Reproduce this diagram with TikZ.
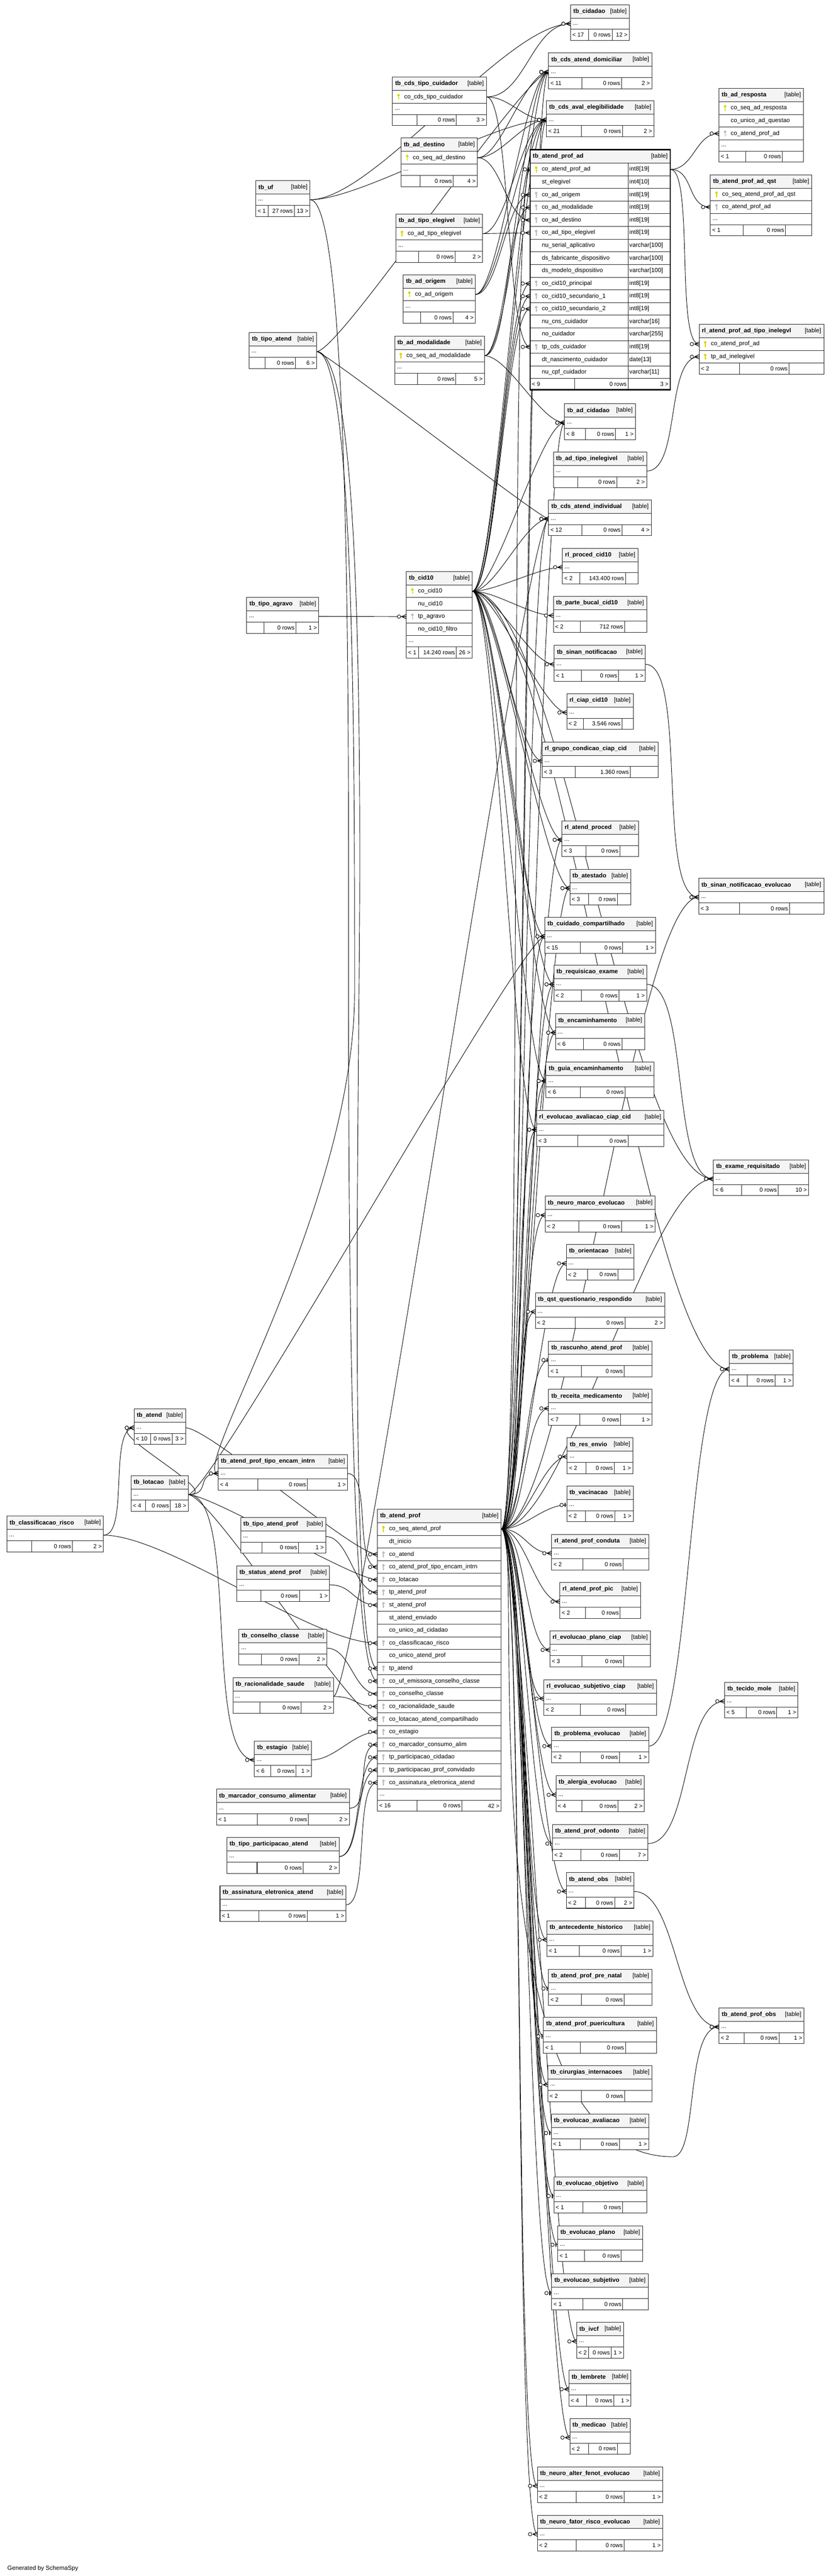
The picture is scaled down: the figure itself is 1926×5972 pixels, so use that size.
\documentclass[tikz,border=0pt]{standalone}
\usepackage{fontspec}
\setmainfont{Liberation Sans}
\usetikzlibrary{positioning}

\definecolor{headgray}{HTML}{F4F4F4}
\definecolor{keyyel}{HTML}{D8D800}
\definecolor{keygray}{HTML}{BDBDBD}

\pgfdeclarelayer{paper}
\pgfdeclarelayer{bg}
\pgfsetlayers{paper,bg,main}

\tikzset{
  tbbox/.style={draw=black!85, line width=1.2pt, inner sep=0pt, outer sep=0pt, fill=white},
  tbhead/.style={tbbox, fill=headgray, minimum height=31pt, anchor=north west},
  tbrow/.style={tbbox, minimum height=29.4pt},
  tbdots/.style={tbbox, minimum height=26pt},
  tbfoot/.style={tbbox, minimum height=26pt},
  tbname/.style={anchor=west, xshift=6pt, inner sep=0pt, font=\bfseries\fontsize{14}{16}\selectfont},
  tbtag/.style={anchor=east, xshift=-6pt, inner sep=0pt, font=\fontsize{14}{16}\selectfont},
  tbtext/.style={anchor=west, xshift=27pt, inner sep=0pt, font=\fontsize{14}{16}\selectfont},
  tbsmall/.style={inner sep=0pt, font=\fontsize{13.5}{16}\selectfont},
  fkline/.style={line width=1.1pt},
  pics/pkey/.style={code={
    \fill[#1] (0,-4) circle[radius=3pt];
    \draw[#1, line width=2pt] (0,-3) -- (0,7);
    \draw[#1, line width=1.4pt] (0,3) -- (2.5,3);}},
  pics/crow/.style={code={
    \draw[line width=1.3pt] (-11,0) -- (0,-5) (-11,0) -- (0,0) (-11,0) -- (0,5);
    \draw[line width=1.1pt, fill=white] (-17,0) circle[radius=4pt];}},
  pics/crowone/.style={code={
    \draw[line width=2.5pt] (-4,-5) -- (-4,5);
    \draw[line width=1.1pt, fill=white] (-12,0) circle[radius=4pt];}}
}

% table: [d = dots row, x = none]{id}{x}{y}{width}{kind/column,...}
\newcommand\dbtable[6][d]{%
  \xdef\dbw{#5}%
  \node[tbhead, minimum width=#5pt, label={[tbname]west:#2},
        label={[tbtag]east:{[table]}}] (#2) at (#3,#4) {};
  \xdef\dbprev{#2}%
  \if\relax\detokenize{#6}\relax\else
    \foreach \kind/\fname [count=\i] in {#6} {%
      \node[tbrow, minimum width=#5pt, below=0pt of \dbprev,
            label={[tbtext]west:\fname}] (#2-\i) {};
      \if\kind k\pic at ([xshift=14pt]#2-\i.west) {pkey=keyyel};\fi
      \if\kind f\pic at ([xshift=14pt]#2-\i.west) {pkey=keygray};\fi
      \xdef\dbprev{#2-\i}}%
  \fi
  \if#1d%
    \node[tbdots, minimum width=#5pt, below=0pt of \dbprev,
          label={[tbtext, xshift=-22pt, yshift=-2pt]west:...}] (#2-d) {};
    \xdef\dbprev{#2-d}%
  \fi}

% footer: {id}{divider 1}{divider 2}{left}{middle}{right}
\newcommand\dbfoot[6]{%
  \node[tbfoot, minimum width=\dbw pt, below=0pt of \dbprev] (#1-f) {};
  \draw[line width=1.2pt, draw=black!85]
    ([xshift=#2pt]#1-f.north west) -- ([xshift=#2pt]#1-f.south west)
    ([xshift=#3pt]#1-f.north west) -- ([xshift=#3pt]#1-f.south west);
  \node[tbsmall, anchor=west] (#1-fl) at ([xshift=4pt]#1-f.west) {#4};
  \node[tbsmall, anchor=east] (#1-fm) at ([xshift=#3pt-3pt]#1-f.west) {#5};
  \node[tbsmall, anchor=east] (#1-fr) at ([xshift=-4pt]#1-f.east) {#6};}

% connectors: zero-or-many and zero-or-one
\newcommand\fk[3][55]{%
  \begin{pgfonlayer}{bg}
    \draw[fkline] (#2.east) .. controls +(#1,0) and +(-#1,0) .. (#3.west);
  \end{pgfonlayer}
  \pic at (#3.west) {crow};}
\newcommand\fo[3][55]{%
  \begin{pgfonlayer}{bg}
    \draw[fkline] (#2.east) .. controls +(#1,0) and +(-#1,0) .. (#3.west);
  \end{pgfonlayer}
  \pic at (#3.west) {crowone};}
% connector that runs down a vertical lane
\newcommand\fklane[3]{%
  \begin{pgfonlayer}{bg}
    \draw[fkline] (#1.east) .. controls +(90,0) and +(0,-500) .. (#2)
      .. controls +(0,500) and +(-70,0) .. (#3.west);
  \end{pgfonlayer}
  \pic at (#3.west) {crow};}

\begin{document}
\catcode`\_=12
\begin{tikzpicture}[x=1pt, y=-1pt]
\begin{pgfonlayer}{paper}
  \fill[white] (0,0) rectangle (1926,5972);
\end{pgfonlayer}
\useasboundingbox (0,0) rectangle (1926,5972);

% top group
\dbtable{tb_cidadao}{1323}{11}{136}{}
\dbfoot{tb_cidadao}{41}{96}{< 17}{0 rows}{12 >}
\dbtable{tb_cds_atend_domiciliar}{1272}{123}{239}{}
\dbfoot{tb_cds_atend_domiciliar}{77}{169}{< 11}{0 rows}{2 >}
\dbtable{tb_cds_tipo_cuidador}{910}{179}{218}{k/co_cds_tipo_cuidador}
\dbfoot{tb_cds_tipo_cuidador}{57}{148}{}{0 rows}{3 >}
\dbtable{tb_ad_resposta}{1667}{205}{196}{k/co_seq_ad_resposta,n/co_unico_ad_questao,f/co_atend_prof_ad}
\dbfoot{tb_ad_resposta}{62}{147}{< 1}{0 rows}{}
\dbtable{tb_cds_aval_elegibilidade}{1267}{234}{249}{}
\dbfoot{tb_cds_aval_elegibilidade}{81}{176}{< 21}{0 rows}{2 >}
\dbtable{tb_ad_destino}{930}{320}{177}{k/co_seq_ad_destino}
\dbfoot{tb_ad_destino}{44}{121}{}{0 rows}{4 >}
\dbtable{tb_atend_prof_ad_qst}{1647}{405}{235}{k/co_seq_atend_prof_ad_qst,f/co_atend_prof_ad}
\dbfoot{tb_atend_prof_ad_qst}{76}{174}{< 1}{0 rows}{}
\dbtable{tb_uf}{593}{419}{126}{}
\dbfoot{tb_uf}{29}{89}{< 1}{27 rows}{13 >}
\dbtable{tb_ad_tipo_elegivel}{918}{496}{201}{k/co_ad_tipo_elegivel}
\dbfoot{tb_ad_tipo_elegivel}{52}{137}{}{0 rows}{2 >}
\dbtable{tb_ad_origem}{935}{637}{167}{k/co_ad_origem}
\dbfoot{tb_ad_origem}{40}{115}{}{0 rows}{4 >}
\dbtable[x]{rl_atend_prof_ad_tipo_inelegvl}{1621}{752}{289}{k/co_atend_prof_ad,k/tp_ad_inelegivel}
\dbfoot{rl_atend_prof_ad_tipo_inelegvl}{93}{208}{< 2}{0 rows}{}
\dbtable{tb_tipo_atend}{578}{771}{156}{}
\dbfoot{tb_tipo_atend}{36}{107}{}{0 rows}{6 >}
\dbtable{tb_ad_modalidade}{915}{779}{208}{k/co_seq_ad_modalidade}
\dbfoot{tb_ad_modalidade}{53}{142}{}{0 rows}{5 >}

% the focus table
\node[tbhead, minimum width=325pt, label={[tbname]west:tb_atend_prof_ad},
      label={[tbtag]east:{[table]}}] (tb_atend_prof_ad) at (1229,347) {};
\xdef\dbprev{tb_atend_prof_ad}\xdef\dbw{325}
\foreach \kind/\fname/\ftype [count=\i] in {k/co_atend_prof_ad/int8[19], n/st_elegivel/int4[10],
    f/co_ad_origem/int8[19], f/co_ad_modalidade/int8[19], f/co_ad_destino/int8[19],
    f/co_ad_tipo_elegivel/int8[19], n/nu_serial_aplicativo/varchar[100],
    n/ds_fabricante_dispositivo/varchar[100], n/ds_modelo_dispositivo/varchar[100],
    f/co_cid10_principal/int8[19], f/co_cid10_secundario_1/int8[19], f/co_cid10_secundario_2/int8[19],
    n/nu_cns_cuidador/varchar[16], n/no_cuidador/varchar[255], f/tp_cds_cuidador/int8[19],
    n/dt_nascimento_cuidador/date[13], n/nu_cpf_cuidador/varchar[11]} {
  \node[tbrow, minimum width=325pt, below=0pt of \dbprev, label={[tbtext]west:\fname},
        label={[tbtext, xshift=203pt]west:\ftype}] (tb_atend_prof_ad-\i) {};
  \draw[line width=1.2pt, draw=black!85] ([xshift=227pt]tb_atend_prof_ad-\i.north west)
    -- ([xshift=227pt]tb_atend_prof_ad-\i.south west);
  \if\kind k\pic at ([xshift=14pt]tb_atend_prof_ad-\i.west) {pkey=keyyel};\fi
  \if\kind f\pic at ([xshift=14pt]tb_atend_prof_ad-\i.west) {pkey=keygray};\fi
  \xdef\dbprev{tb_atend_prof_ad-\i}
}
\dbfoot{tb_atend_prof_ad}{103}{227}{< 9}{0 rows}{3 >}
\draw[line width=3pt] (tb_atend_prof_ad.north west) rectangle (tb_atend_prof_ad-f.south east);

% cid10 group
\dbtable{tb_ad_cidadao}{1309}{936}{164}{}
\dbfoot{tb_ad_cidadao}{48}{118}{< 8}{0 rows}{1 >}
\dbtable{tb_ad_tipo_inelegivel}{1283}{1048}{216}{}
\dbfoot{tb_ad_tipo_inelegivel}{57}{147}{}{0 rows}{2 >}
\dbtable{tb_cds_atend_individual}{1272}{1159}{238}{}
\dbfoot{tb_cds_atend_individual}{77}{170}{< 12}{0 rows}{4 >}
\dbtable{rl_proced_cid10}{1304}{1271}{175}{}
\dbfoot{rl_proced_cid10}{40}{146}{< 2}{143.400 rows}{}
\dbtable{tb_cid10}{942}{1325}{153}{k/co_cid10,n/nu_cid10,f/tp_agravo,n/no_cid10_filtro}
\dbfoot{tb_cid10}{29}{116}{< 1}{14.240 rows}{26 >}
\dbtable{tb_tipo_agravo}{572}{1385}{167}{}
\dbfoot{tb_tipo_agravo}{40}{114}{}{0 rows}{1 >}
\dbtable{tb_parte_bucal_cid10}{1283}{1383}{216}{}
\dbfoot{tb_parte_bucal_cid10}{63}{165}{< 2}{712 rows}{}
\dbtable{tb_sinan_notificacao}{1285}{1496}{211}{}
\dbfoot{tb_sinan_notificacao}{63}{149}{< 1}{0 rows}{1 >}
\dbtable{rl_ciap_cid10}{1314}{1608}{154}{}
\dbfoot{rl_ciap_cid10}{39}{128}{< 2}{3.546 rows}{}
\dbtable{rl_grupo_condicao_ciap_cid}{1257}{1720}{269}{}
\dbfoot{rl_grupo_condicao_ciap_cid}{77}{204}{< 3}{1.360 rows}{}

% right column
\dbtable{rl_atend_proced}{1303}{1903}{177}{}
\dbfoot{rl_atend_proced}{56}{134}{< 3}{0 rows}{}
\dbtable{tb_atestado}{1321}{2015}{141}{}
\dbfoot{tb_atestado}{43}{110}{< 3}{0 rows}{}
\dbtable{tb_sinan_notificacao_evolucao}{1620}{2036}{290}{}
\dbfoot{tb_sinan_notificacao_evolucao}{94}{210}{< 3}{0 rows}{}
\dbtable{tb_cuidado_compartilhado}{1263}{2127}{257}{}
\dbfoot{tb_cuidado_compartilhado}{83}{181}{< 15}{0 rows}{1 >}
\dbtable{tb_requisicao_exame}{1284}{2238}{215}{}
\dbfoot{tb_requisicao_exame}{64}{151}{< 2}{0 rows}{1 >}
\dbtable{tb_encaminhamento}{1288}{2350}{207}{}
\dbfoot{tb_encaminhamento}{65}{154}{< 6}{0 rows}{}
\dbtable{tb_guia_encaminhamento}{1266}{2462}{250}{}
\dbfoot{tb_guia_encaminhamento}{80}{183}{< 6}{0 rows}{}
\dbtable{rl_evolucao_avaliacao_ciap_cid}{1244}{2575}{295}{}
\dbfoot{rl_evolucao_avaliacao_ciap_cid}{95}{212}{< 3}{0 rows}{}
\dbtable{tb_exame_requisitado}{1654}{2689}{221}{}
\dbfoot{tb_exame_requisitado}{65}{150}{< 6}{0 rows}{10 >}
\dbtable{tb_neuro_marco_evolucao}{1264}{2773}{255}{}
\dbfoot{tb_neuro_marco_evolucao}{78}{177}{< 2}{0 rows}{1 >}
\dbtable{tb_orientacao}{1313}{2885}{157}{}
\dbfoot{tb_orientacao}{49}{120}{< 2}{0 rows}{}
\dbtable{tb_qst_questionario_respondido}{1241}{2997}{300}{}
\dbfoot{tb_qst_questionario_respondido}{93}{208}{< 2}{0 rows}{2 >}
\dbtable{tb_rascunho_atend_prof}{1272}{3109}{239}{}
\dbfoot{tb_rascunho_atend_prof}{76}{175}{< 1}{0 rows}{}
\dbtable{tb_problema}{1691}{3130}{148}{}
\dbfoot{tb_problema}{42}{106}{< 4}{0 rows}{1 >}
\dbtable{tb_receita_medicamento}{1272}{3221}{239}{}
\dbfoot{tb_receita_medicamento}{72}{167}{< 7}{0 rows}{1 >}
\dbtable{tb_res_envio}{1315}{3333}{152}{}
\dbfoot{tb_res_envio}{44}{109}{< 2}{0 rows}{1 >}
\dbtable{tb_vacinacao}{1314}{3445}{154}{}
\dbfoot{tb_vacinacao}{44}{111}{< 2}{0 rows}{1 >}
\dbtable{rl_atend_prof_conduta}{1279}{3557}{225}{}
\dbfoot{rl_atend_prof_conduta}{72}{166}{< 2}{0 rows}{}
\dbtable{rl_atend_prof_pic}{1298}{3669}{187}{}
\dbfoot{rl_atend_prof_pic}{59}{140}{< 2}{0 rows}{}
\dbtable{rl_evolucao_plano_ciap}{1275}{3781}{233}{}
\dbfoot{rl_evolucao_plano_ciap}{74}{171}{< 3}{0 rows}{}
\dbtable{rl_evolucao_subjetivo_ciap}{1261}{3894}{261}{}
\dbfoot{rl_evolucao_subjetivo_ciap}{84}{190}{< 2}{0 rows}{}
\dbtable{tb_tecido_mole}{1680}{3900}{170}{}
\dbfoot{tb_tecido_mole}{50}{121}{< 5}{0 rows}{1 >}
\dbtable{tb_problema_evolucao}{1279}{4004}{225}{}
\dbfoot{tb_problema_evolucao}{67}{157}{< 2}{0 rows}{1 >}
\dbtable{tb_alergia_evolucao}{1289}{4117}{205}{}
\dbfoot{tb_alergia_evolucao}{60}{144}{< 4}{0 rows}{2 >}
\dbtable{tb_atend_prof_odonto}{1281}{4230}{221}{}
\dbfoot{tb_atend_prof_odonto}{66}{155}{< 2}{0 rows}{7 >}
\dbtable{tb_atend_obs}{1313}{4341}{157}{}
\dbfoot{tb_atend_obs}{45}{112}{< 2}{0 rows}{2 >}
\dbtable{tb_antecedente_historico}{1268}{4453}{246}{}
\dbfoot{tb_antecedente_historico}{75}{172}{< 1}{0 rows}{1 >}
\dbtable{tb_atend_prof_pre_natal}{1272}{4566}{239}{}
\dbfoot{tb_atend_prof_pre_natal}{76}{175}{< 2}{0 rows}{}
\dbtable{tb_atend_prof_obs}{1667}{4655}{197}{}
\dbfoot{tb_atend_prof_obs}{58}{139}{< 2}{0 rows}{1 >}
\dbtable{tb_atend_prof_puericultura}{1260}{4677}{262}{}
\dbfoot{tb_atend_prof_puericultura}{85}{190}{< 1}{0 rows}{}
\dbtable{tb_cirurgias_internacoes}{1270}{4789}{242}{}
\dbfoot{tb_cirurgias_internacoes}{78}{178}{< 2}{0 rows}{}
\dbtable{tb_evolucao_avaliacao}{1278}{4901}{226}{}
\dbfoot{tb_evolucao_avaliacao}{68}{158}{< 1}{0 rows}{1 >}
\dbtable{tb_evolucao_objetivo}{1284}{5047}{215}{}
\dbfoot{tb_evolucao_objetivo}{68}{159}{< 1}{0 rows}{}
\dbtable{tb_evolucao_plano}{1293}{5160}{197}{}
\dbfoot{tb_evolucao_plano}{62}{147}{< 1}{0 rows}{}
\dbtable{tb_evolucao_subjetivo}{1279}{5272}{224}{}
\dbfoot{tb_evolucao_subjetivo}{72}{165}{< 1}{0 rows}{}
\dbtable{tb_ivcf}{1337}{5384}{109}{}
\dbfoot{tb_ivcf}{28}{80}{< 2}{0 rows}{1 >}
\dbtable{tb_lembrete}{1319}{5495}{144}{}
\dbfoot{tb_lembrete}{41}{104}{< 4}{0 rows}{1 >}
\dbtable{tb_medicao}{1321}{5607}{140}{}
\dbfoot{tb_medicao}{43}{110}{< 2}{0 rows}{}
\dbtable{tb_neuro_alter_fenot_evolucao}{1246}{5719}{290}{}
\dbfoot{tb_neuro_alter_fenot_evolucao}{90}{201}{< 2}{0 rows}{1 >}
\dbtable{tb_neuro_fator_risco_evolucao}{1246}{5831}{290}{}
\dbfoot{tb_neuro_fator_risco_evolucao}{90}{201}{< 2}{0 rows}{1 >}

% left group
\dbtable{tb_atend}{311}{3266}{119}{}
\dbfoot{tb_atend}{38}{88}{< 10}{0 rows}{3 >}
\dbtable{tb_atend_prof_tipo_encam_intrn}{506}{3372}{300}{}
\dbfoot{tb_atend_prof_tipo_encam_intrn}{92}{207}{< 4}{0 rows}{1 >}
\dbtable{tb_lotacao}{304}{3421}{132}{}
\dbfoot{tb_lotacao}{34}{91}{< 4}{0 rows}{18 >}
\dbtable{tb_classificacao_risco}{16}{3515}{224}{}
\dbfoot{tb_classificacao_risco}{58}{152}{}{0 rows}{2 >}
\dbtable{tb_tipo_atend_prof}{558}{3518}{197}{}
\dbfoot{tb_tipo_atend_prof}{49}{134}{}{0 rows}{1 >}
\dbtable{tb_status_atend_prof}{549}{3630}{215}{}
\dbfoot{tb_status_atend_prof}{56}{145}{}{0 rows}{1 >}
\dbtable{tb_conselho_classe}{554}{3777}{204}{}
\dbfoot{tb_conselho_classe}{52}{139}{}{0 rows}{2 >}
\dbtable{tb_racionalidade_saude}{540}{3889}{233}{}
\dbfoot{tb_racionalidade_saude}{62}{158}{}{0 rows}{2 >}
\dbtable{tb_estagio}{590}{4036}{132}{}
\dbfoot{tb_estagio}{38}{96}{< 6}{0 rows}{1 >}
\dbtable{tb_marcador_consumo_alimentar}{502}{4148}{308}{}
\dbfoot{tb_marcador_consumo_alimentar}{95}{213}{< 1}{0 rows}{2 >}
\dbtable{tb_tipo_participacao_atend}{526}{4260}{260}{}
\dbfoot{tb_tipo_participacao_atend}{70}{177}{}{0 rows}{2 >}
\dbtable{tb_assinatura_eletronica_atend}{510}{4372}{292}{}
\dbfoot{tb_assinatura_eletronica_atend}{90}{202}{< 1}{0 rows}{1 >}
\dbtable{tb_atend_prof}{875}{3499}{287}{k/co_seq_atend_prof,n/dt_inicio,f/co_atend,
  f/co_atend_prof_tipo_encam_intrn,f/co_lotacao,f/tp_atend_prof,f/st_atend_prof,n/st_atend_enviado,
  n/co_unico_ad_cidadao,f/co_classificacao_risco,n/co_unico_atend_prof,f/tp_atend,
  f/co_uf_emissora_conselho_classe,f/co_conselho_classe,f/co_racionalidade_saude,
  f/co_lotacao_atend_compartilhado,f/co_estagio,f/co_marcador_consumo_alim,f/tp_participacao_cidadao,
  f/tp_participacao_prof_convidado,f/co_assinatura_eletronica_atend}
\dbfoot{tb_atend_prof}{92}{196}{< 16}{0 rows}{42 >}

\node[anchor=base west, inner sep=0pt, font=\fontsize{14}{16}\selectfont] (credit) at (17,5958) {Generated by SchemaSpy};

% lanes for the long connectors on the left
\coordinate (lane1) at (808,2100);
\coordinate (lane2) at (822,2300);
\coordinate (lane3) at (834,2000);

% relationships, top
\fk[150]{tb_uf-d}{tb_cidadao-d}
\fk[90]{tb_cds_tipo_cuidador-1}{tb_cidadao-d}
\fk{tb_cds_tipo_cuidador-1}{tb_cds_aval_elegibilidade-d}
\fk{tb_cds_tipo_cuidador-1}{tb_atend_prof_ad-15}
\fk{tb_ad_destino-1}{tb_cds_atend_domiciliar-d}
\fk{tb_ad_destino-1}{tb_cds_aval_elegibilidade-d}
\fk{tb_ad_destino-1}{tb_atend_prof_ad-5}
\fk{tb_ad_tipo_elegivel-1}{tb_atend_prof_ad-6}
\fk{tb_ad_tipo_elegivel-1}{tb_cds_aval_elegibilidade-d}
\fk{tb_ad_origem-1}{tb_atend_prof_ad-3}
\fk{tb_ad_origem-1}{tb_cds_atend_domiciliar-d}
\fk{tb_ad_origem-1}{tb_cds_aval_elegibilidade-d}
\fk{tb_ad_modalidade-1}{tb_atend_prof_ad-4}
\fk{tb_ad_modalidade-1}{tb_cds_atend_domiciliar-d}
\fk{tb_ad_modalidade-1}{tb_cds_aval_elegibilidade-d}
\fk{tb_ad_modalidade-1}{tb_ad_cidadao-d}
\fk[120]{tb_uf-d}{tb_cds_aval_elegibilidade-d}
\fklane{tb_uf-d}{lane1}{tb_atend_prof-13}
\fk[20]{tb_tipo_atend-d}{tb_cds_atend_individual-d}
\fklane{tb_tipo_atend-d}{lane3}{tb_atend_prof-12}
\fk{tb_tipo_atend-d}{tb_cds_atend_domiciliar-d}
\fklane{tb_tipo_atend-d}{lane2}{tb_atend_prof_tipo_encam_intrn-d}
\fk{tb_atend_prof_ad-1}{tb_ad_resposta-3}
\fk{tb_atend_prof_ad-1}{tb_atend_prof_ad_qst-2}
\fk{tb_atend_prof_ad-1}{rl_atend_prof_ad_tipo_inelegvl-1}
\fk[80]{tb_ad_tipo_inelegivel-d}{rl_atend_prof_ad_tipo_inelegvl-2}
\fk[40]{tb_tipo_agravo-d}{tb_cid10-3}

% relationships, tb_cid10
\foreach \child in {tb_atend_prof_ad-10,tb_atend_prof_ad-11,tb_atend_prof_ad-12,
    tb_cds_aval_elegibilidade-d,tb_cds_atend_domiciliar-d,tb_ad_cidadao-d,tb_cds_atend_individual-d,
    rl_proced_cid10-d,tb_parte_bucal_cid10-d,tb_sinan_notificacao-d,rl_ciap_cid10-d,
    rl_grupo_condicao_ciap_cid-d,rl_atend_proced-d,tb_atestado-d,tb_cuidado_compartilhado-d,
    tb_requisicao_exame-d,tb_encaminhamento-d,tb_guia_encaminhamento-d,rl_evolucao_avaliacao_ciap_cid-d}
  {\fk{tb_cid10-1}{\child}}
\fk[200]{tb_cid10-1}{tb_exame_requisitado-d}
\fk[200]{tb_cid10-1}{tb_problema-d}

% relationships, right column pairs
\fk[100]{tb_sinan_notificacao-d}{tb_sinan_notificacao_evolucao-d}
\fk[100]{tb_requisicao_exame-d}{tb_exame_requisitado-d}
\fk[100]{tb_problema_evolucao-d}{tb_problema-d}
\fk[100]{tb_atend_prof_odonto-d}{tb_tecido_mole-d}
\fk[100]{tb_atend_obs-d}{tb_atend_prof_obs-d}

% relationships, tb_atend_prof
\fo{tb_atend_prof-1}{tb_atend_prof_ad-1}
\foreach \child in {tb_cds_atend_domiciliar-d,tb_cds_aval_elegibilidade-d,tb_ad_cidadao-d,
    tb_cds_atend_individual-d,rl_atend_proced-d,tb_atestado-d,tb_cuidado_compartilhado-d,
    tb_requisicao_exame-d,tb_encaminhamento-d,tb_guia_encaminhamento-d,rl_evolucao_avaliacao_ciap_cid-d,
    tb_neuro_marco_evolucao-d,tb_orientacao-d,tb_qst_questionario_respondido-d,tb_receita_medicamento-d,
    tb_res_envio-d,rl_atend_prof_conduta-d,rl_atend_prof_pic-d,rl_evolucao_plano_ciap-d,
    rl_evolucao_subjetivo_ciap-d,tb_problema_evolucao-d,tb_alergia_evolucao-d,tb_atend_obs-d,
    tb_antecedente_historico-d,tb_cirurgias_internacoes-d,tb_ivcf-d,tb_lembrete-d,tb_medicao-d,
    tb_neuro_alter_fenot_evolucao-d,tb_neuro_fator_risco_evolucao-d}
  {\fk{tb_atend_prof-1}{\child}}
\foreach \child in {tb_rascunho_atend_prof-d,tb_vacinacao-d,tb_atend_prof_odonto-d,
    tb_atend_prof_pre_natal-d,tb_atend_prof_puericultura-d,tb_evolucao_avaliacao-d,
    tb_evolucao_objetivo-d,tb_evolucao_plano-d,tb_evolucao_subjetivo-d}
  {\fo{tb_atend_prof-1}{\child}}
\fk[150]{tb_atend_prof-1}{tb_sinan_notificacao_evolucao-d}
\fk[150]{tb_atend_prof-1}{tb_exame_requisitado-d}
\coordinate (obsbend) at (1560,5000);
\begin{pgfonlayer}{bg}
  \draw[fkline] (tb_atend_prof-1.east) .. controls +(60,0) and +(-500,0) .. (obsbend)
    .. controls +(60,0) and +(-80,0) .. (tb_atend_prof_obs-d.west);
\end{pgfonlayer}
\pic at (tb_atend_prof_obs-d.west) {crow};

% relationships, left group
\fk{tb_atend-d}{tb_atend_prof-3}
\fk{tb_atend_prof_tipo_encam_intrn-d}{tb_atend_prof-4}
\fk{tb_lotacao-d}{tb_atend_prof-5}
\fk{tb_tipo_atend_prof-d}{tb_atend_prof-6}
\fk{tb_status_atend_prof-d}{tb_atend_prof-7}
\fk[150]{tb_classificacao_risco-d}{tb_atend_prof-10}
\fk{tb_conselho_classe-d}{tb_atend_prof-14}
\fk{tb_racionalidade_saude-d}{tb_atend_prof-15}
\fk{tb_lotacao-d}{tb_atend_prof-16}
\fk{tb_estagio-d}{tb_atend_prof-17}
\fk{tb_marcador_consumo_alimentar-d}{tb_atend_prof-18}
\fk{tb_tipo_participacao_atend-d}{tb_atend_prof-19}
\fk{tb_tipo_participacao_atend-d}{tb_atend_prof-20}
\fk{tb_assinatura_eletronica_atend-d}{tb_atend_prof-21}
\fk[60]{tb_classificacao_risco-d}{tb_atend-d}
\fk[90]{tb_lotacao-d}{tb_atend-d}
\fk{tb_lotacao-d}{tb_atend_prof_tipo_encam_intrn-d}
\fk[120]{tb_lotacao-d}{tb_estagio-d}
\fk{tb_lotacao-d}{tb_cuidado_compartilhado-d}
\fk{tb_racionalidade_saude-d}{tb_cds_atend_individual-d}
\end{tikzpicture}
\end{document}
